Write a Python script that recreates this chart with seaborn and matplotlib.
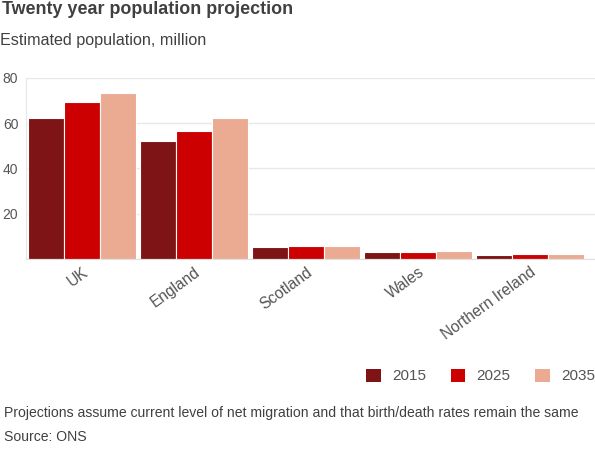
import pandas as pd
import matplotlib
matplotlib.use('Agg')
import matplotlib.pyplot as plt
import seaborn as sns
from matplotlib.patches import Patch

# Data (million)
regions = ['UK', 'England', 'Scotland', 'Wales', 'Northern Ireland']
years = ['2015', '2025', '2035']
pop_2015 = [62.3, 52.1, 5.4, 3.1, 1.9]
pop_2025 = [69.3, 56.5, 5.8, 3.2, 2.0]
pop_2035 = [73.2, 62.1, 5.9, 3.4, 2.0]
colors = ['#7e1416', '#cc0000', '#ebaa92']

df = pd.DataFrame({
    'region': regions * 3,
    'year': [y for y in years for _ in regions],
    'value': pop_2015 + pop_2025 + pop_2035,
})

sns.set_style('white')
plt.rcParams['font.family'] = ['Liberation Sans', 'DejaVu Sans']

fig = plt.figure(figsize=(5.95, 4.5), dpi=100)
ax = fig.add_axes([26 / 595, 1 - 259 / 450, 1 - 26 / 595, (259 - 77.7) / 450])

sns.barplot(data=df, x='region', y='value', hue='year', palette=colors,
            width=0.97, gap=0, edgecolor='white', linewidth=0.8,
            saturation=1, legend=False, ax=ax)

ax.set_ylim(0, 80)
ax.set_xlim(-0.5, 4.58)
ax.set_yticks([0, 20, 40, 60, 80])
ax.set_yticklabels(['', '20', '40', '60', '80'])
ax.yaxis.grid(True, color='#e8e8e8', linewidth=1)
ax.set_axisbelow(True)
ax.set_xlabel('')
ax.set_ylabel('')

for s in ['top', 'right']:
    ax.spines[s].set_visible(False)
ax.spines['left'].set_color('#e6e6e6')
ax.spines['bottom'].set_color('#e0e0e0')

ax.tick_params(axis='y', length=4, width=1, color='#e0e0e0', pad=1.5,
               labelsize=10, labelcolor='#555555')
ax.set_xticks([-0.5, 0.5, 1.5, 2.5, 3.5], minor=True)
ax.tick_params(axis='x', which='minor', length=5, color='#e0e0e0')
ax.tick_params(axis='x', which='major', length=0, pad=4,
               labelsize=11.2, labelcolor='#555555')
for lbl in ax.get_xticklabels():
    lbl.set_rotation(36)
    lbl.set_ha('right')
    lbl.set_rotation_mode('anchor')

fig.text(2 / 595, 1 - 9 / 450, 'Twenty year population projection',
         fontsize=12.9, fontweight='bold', color='#404040', va='center')
fig.text(0, 1 - 40 / 450, 'Estimated population, million',
         fontsize=11.6, color='#404040', va='center')

handles = [Patch(facecolor=c, edgecolor='none') for c in colors]
fig.legend(handles, years, loc='center right', bbox_to_anchor=(1.0, 1 - 376 / 450),
           ncol=3, frameon=False, handlelength=0.95, handleheight=0.95,
           handletextpad=0.75, columnspacing=1.6, borderpad=0, borderaxespad=0,
           prop={'size': 11}, labelcolor='#555555')

fig.text(4 / 595, 1 - 413 / 450,
         'Projections assume current level of net migration and that birth/death rates remain the same',
         fontsize=10.05, color='#404040', va='center')
fig.text(4 / 595, 1 - 437 / 450, 'Source: ONS', fontsize=10.05, color='#404040', va='center')

fig.savefig('out.png', dpi=100)
